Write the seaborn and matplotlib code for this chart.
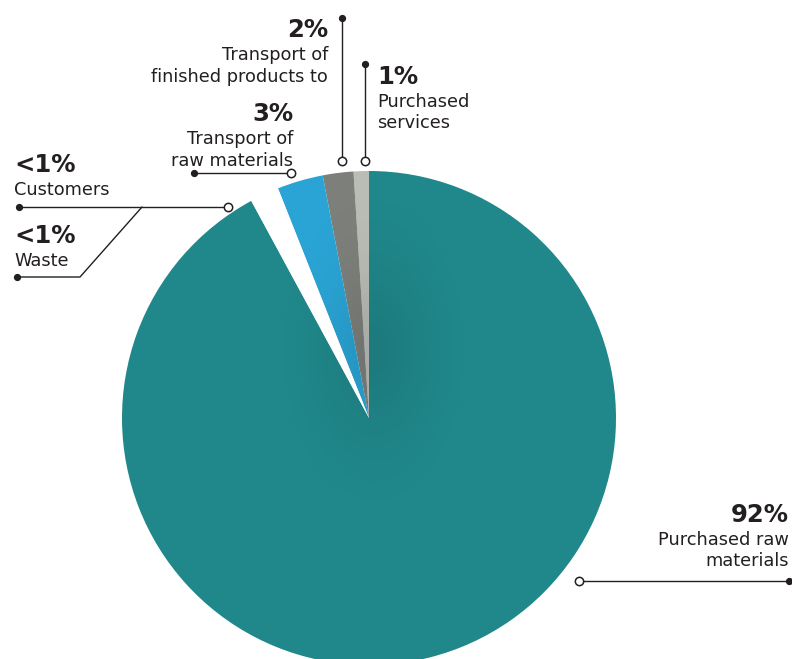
import numpy as np
import matplotlib
matplotlib.use("Agg")
import matplotlib.pyplot as plt
import seaborn as sns
from matplotlib.patches import Circle

sns.set_theme(style="white")
plt.rcParams["font.family"] = ["DejaVu Sans"]

# Scope 3 emission shares, counter-clockwise from 12 o'clock
categories = ["Purchased services", "Transport of finished products to",
              "Transport of raw materials", "Customers", "Waste",
              "Purchased raw materials"]
shares = [1, 2, 3, 0.95, 0.95, 92]
share_labels = ["1%", "2%", "3%", "<1%", "<1%", "92%"]
label_lines = [["Purchased", "services"],
               ["Transport of", "finished products to"],
               ["Transport of", "raw materials"],
               ["Customers"],
               ["Waste"],
               ["Purchased raw", "materials"]]
palette = sns.color_palette(["#B9BDB6", "#7D7F7A", "#2AA4D4",
                             "#FFFFFF", "#FFFFFF", "#20878A"])

W, H = 792, 659
INK = "#231F20"

fig = plt.figure(figsize=(W / 100, H / 100), dpi=100)
ax = fig.add_axes([0, 0, 1, 1])


def Y(py):
    return H - py


cx, cy, R = 369, Y(418), 247
wedges, _ = ax.pie(shares, colors=palette, startangle=90, counterclock=True,
                   center=(cx, cy), radius=R,
                   wedgeprops=dict(linewidth=0, antialiased=True))
ax.set_xlim(0, W)
ax.set_ylim(0, H)
ax.set_aspect("equal")
ax.axis("off")

# soft shading near the centre of the pie
gx = np.linspace(cx - R, cx + R, 400)
gy = np.linspace(cy - R, cy + R, 400)
XX, YY = np.meshgrid(gx, gy)
alpha = 0.09 * np.exp(-(((XX - 374) / 36) ** 2 + ((YY - Y(350)) / 60) ** 2) / 2)
img = np.zeros((400, 400, 4))
img[..., 3] = alpha
im = ax.imshow(img, extent=(cx - R, cx + R, cy - R, cy + R), origin="lower",
               interpolation="bilinear", zorder=3)
clip = Circle((cx, cy), R, transform=ax.transData)
im.set_clip_path(clip)
# keep the white gap free of shading
for k in (3, 4):
    wedges[k].set_zorder(4)


def leader(points):
    xs = [p[0] for p in points]
    ys = [Y(p[1]) for p in points]
    ax.plot(xs, ys, color=INK, lw=1.0, zorder=6, solid_capstyle="round")
    ax.plot(xs[0], ys[0], "o", ms=4.2, color=INK, zorder=7)
    ax.plot(xs[-1], ys[-1], "o", ms=6, mfc="white", mec=INK, mew=1.1, zorder=7)


def label(x, top_base, idx, ha):
    ax.text(x, Y(top_base), share_labels[idx], ha=ha, va="baseline",
            fontsize=17.5, fontweight="bold", color=INK, zorder=8)
    for j, line in enumerate(label_lines[idx]):
        ax.text(x, Y(top_base + 23 + 21.5 * j), line, ha=ha, va="baseline",
                fontsize=12.8, color=INK, zorder=8)


# Purchased services
leader([(365, 64), (365, 161)])
label(377, 84, 0, "left")
# Transport of finished products
leader([(342, 18), (342, 161)])
label(328, 37, 1, "right")
# Transport of raw materials
leader([(194, 173), (291, 173)])
label(293, 121, 2, "right")
# Customers
leader([(19, 207), (228, 207)])
label(14, 172, 3, "left")
# Waste joins the customers leader
ax.plot([17, 80, 142], [Y(277), Y(277), Y(207)], color=INK, lw=1.0, zorder=6)
ax.plot(17, Y(277), "o", ms=4.2, color=INK, zorder=7)
label(14, 243, 4, "left")
# Purchased raw materials
leader([(789, 581), (579, 581)])
label(789, 522, 5, "right")

fig.savefig("out.png", dpi=100, facecolor="white")
